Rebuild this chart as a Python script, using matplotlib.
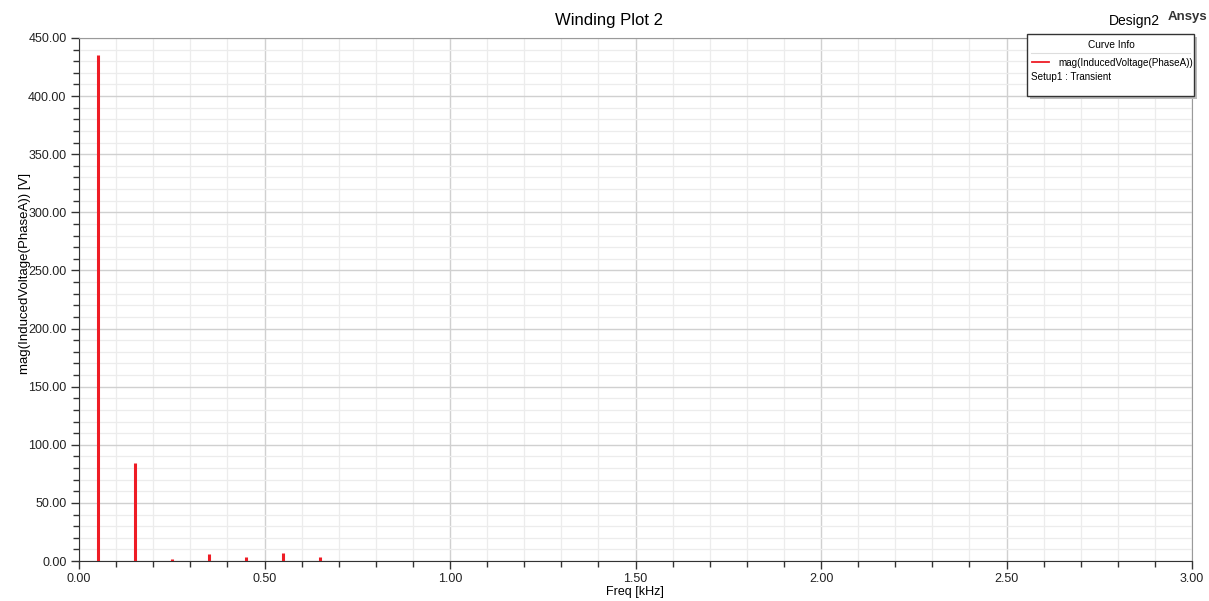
import matplotlib.pyplot as plt
from matplotlib.ticker import MultipleLocator, FormatStrFormatter
from matplotlib.patches import Rectangle
from matplotlib.lines import Line2D

# harmonic frequencies (kHz) and magnitudes (V)
freq = [0.05, 0.15, 0.25, 0.35, 0.45, 0.55, 0.65, 0.85, 0.95, 1.15, 1.25, 1.35, 1.55, 1.65, 2.35]
volt = [435.0, 84.0, 2.0, 6.3, 3.7, 6.9, 3.7, 0.3, 0.3, 0.3, 0.3, 0.3, 0.3, 0.3, 0.3]

plt.rcParams['font.family'] = ['Liberation Sans', 'DejaVu Sans']
fig = plt.figure(figsize=(12.09, 6.01), dpi=100)
ax = fig.add_axes([79/1209, 40/601, 1113/1209, 523/601])

ax.vlines(freq, 0, volt, color='#ee1c25', linewidth=2.2, zorder=3)

ax.set_xlim(0, 3.0)
ax.set_ylim(0, 450)
ax.xaxis.set_major_locator(MultipleLocator(0.5))
ax.xaxis.set_minor_locator(MultipleLocator(0.1))
ax.yaxis.set_major_locator(MultipleLocator(50))
ax.yaxis.set_minor_locator(MultipleLocator(10))
ax.xaxis.set_major_formatter(FormatStrFormatter('%.2f'))
ax.yaxis.set_major_formatter(FormatStrFormatter('%.2f'))
ax.grid(which='major', color='#d0d0d0', linewidth=1.0)
ax.grid(which='minor', color='#ececec', linewidth=0.9)
ax.set_axisbelow(True)
ax.tick_params(which='major', length=6, width=1, color='#333333', labelsize=9, labelcolor='#222222', pad=3)
ax.tick_params(which='minor', length=4, width=1, color='#333333')
for s in ['left', 'bottom']:
    ax.spines[s].set_color('#333333')
for s in ['top', 'right']:
    ax.spines[s].set_color('#9a9a9a')

fig.text(635/1209, 1 - 592/601, 'Freq [kHz]', ha='center', va='center', fontsize=9)
fig.text(25/1209, 1 - 273/601, 'mag(InducedVoltage(PhaseA)) [V]', ha='center', va='center',
         fontsize=9.5, rotation=90)

fig.text(609/1209, 1 - 20/601, 'Winding Plot 2', ha='center', va='center', fontsize=12)
fig.text(1134/1209, 1 - 21/601, 'Design2', ha='center', va='center', fontsize=10)
fig.text(1187/1209, 1 - 17/601, 'Ansys', ha='center', va='center', fontsize=9.5, fontweight='bold', color='#333333')

# legend box
lx0, ly0, lw, lh = 1027/1209, 1 - 96/601, 167/1209, 62/601
fig.patches.append(Rectangle((lx0 + 3/1209, ly0 - 3/601), lw, lh, transform=fig.transFigure,
                             facecolor='#bbbbbb', edgecolor='none', zorder=5))
fig.patches.append(Rectangle((lx0, ly0), lw, lh, transform=fig.transFigure,
                             facecolor='white', edgecolor='#333333', linewidth=1, zorder=6))
fig.lines.append(Line2D([1031/1209, 1190/1209], [1 - 53/601, 1 - 53/601], transform=fig.transFigure,
                        color='#dddddd', linewidth=0.8, zorder=7))
fig.text(1111/1209, 1 - 45/601, 'Curve Info', ha='center', va='center', fontsize=7.3, zorder=8)
fig.lines.append(Line2D([1032/1209, 1049/1209], [1 - 62/601, 1 - 62/601], transform=fig.transFigure,
                        color='#ee1c25', linewidth=1.3, zorder=8))
fig.text(1058/1209, 1 - 63/601, 'mag(InducedVoltage(PhaseA))', ha='left', va='center', fontsize=7.1, zorder=8)
fig.text(1031/1209, 1 - 77/601, 'Setup1 : Transient', ha='left', va='center', fontsize=7.1, zorder=8)

fig.savefig('out.png', dpi=100)
